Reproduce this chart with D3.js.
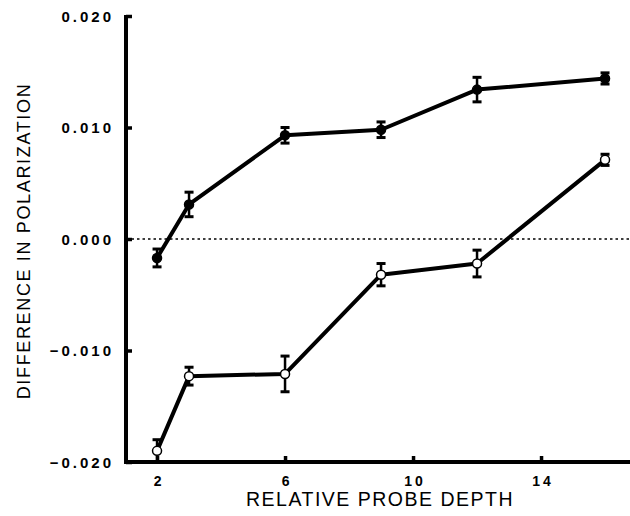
<!DOCTYPE html>
<html>
<head>
<meta charset="utf-8">
<script src="https://cdn.jsdelivr.net/npm/d3@7"></script>
<style>
  body { margin: 0; background: #fff; }
  svg { display: block; font-family: "Liberation Sans", Arial, sans-serif; }
</style>
</head>
<body>
<svg id="chart" width="630" height="516"></svg>
<script>
// probe depth values (x)
const depth = [2, 3, 6, 9, 12, 16];
// filled circles series
const filledValues = [-0.0017, 0.0031, 0.0093, 0.0098, 0.0134, 0.0144];
const filledErrors = [0.0008, 0.0011, 0.0007, 0.0007, 0.0011, 0.0005];
// open circles series
const openValues = [-0.0190, -0.0123, -0.0121, -0.0032, -0.0022, 0.0071];
const openErrors = [0.0010, 0.0008, 0.0016, 0.0010, 0.0012, 0.0005];
// tick labels
const xTicks = [2, 6, 10, 14];
const yTicks = [-0.020, -0.010, 0.000, 0.010, 0.020];

const svg = d3.select('#chart');
const plotLeft = 126, plotTop = 16, plotRight = 630, plotBottom = 462;

const x = d3.scaleLinear().domain([1.03, 16.78]).range([plotLeft, plotRight]);
const y = d3.scaleLinear().domain([-0.020, 0.020]).range([plotBottom, plotTop]);

// zero reference line (dotted)
svg.append('line')
    .attr('x1', plotLeft).attr('x2', plotRight)
    .attr('y1', y(0)).attr('y2', y(0))
    .style('stroke', '#000')
    .style('stroke-width', 1.6)
    .style('stroke-dasharray', '2.5,3');

// y axis
const yAxis = svg.append('g')
    .attr('transform', `translate(${plotLeft},0)`)
    .call(d3.axisLeft(y).tickValues(yTicks).tickFormat(d3.format('.3f'))
        .tickSizeInner(-6).tickSizeOuter(0).tickPadding(12));
yAxis.select('.domain').style('stroke-width', 4).attr('d', `M0,${plotTop - 1}V${plotBottom + 2}`);
yAxis.selectAll('.tick line').style('stroke-width', 3.5);
yAxis.selectAll('.tick text')
    .style('font-size', '15px')
    .style('font-weight', 'bold')
    .style('letter-spacing', '3px')
    .attr('dy', '0.36em');

// x axis
const xAxis = svg.append('g')
    .attr('transform', `translate(0,${plotBottom})`)
    .call(d3.axisBottom(x).tickValues(xTicks)
        .tickSizeInner(-6).tickSizeOuter(0).tickPadding(14));
xAxis.select('.domain').style('stroke-width', 4).attr('d', `M${plotLeft - 2},0H${plotRight}`);
xAxis.selectAll('.tick line').style('stroke-width', 3.5);
xAxis.selectAll('.tick text')
    .style('font-size', '14px')
    .style('font-weight', 'bold')
    .style('letter-spacing', '3px')
    .attr('dx', '1.5px');

// axis titles
svg.append('text')
    .text('RELATIVE PROBE DEPTH')
    .attr('x', 380)
    .attr('y', 506)
    .attr('text-anchor', 'middle')
    .style('font-size', '19.5px')
    .style('letter-spacing', '1.5px');

svg.append('text')
    .text('DIFFERENCE IN POLARIZATION')
    .attr('transform', 'translate(30,241) rotate(-90)')
    .attr('text-anchor', 'middle')
    .style('font-size', '18px')
    .style('letter-spacing', '1.65px');

function drawSeries(values, errors, open) {
    const pts = depth.map((d, i) => ({ x: d, v: values[i], e: errors[i] }));
    const g = svg.append('g');

    g.append('path')
        .datum(pts)
        .attr('d', d3.line().x(d => x(d.x)).y(d => y(d.v)))
        .style('fill', 'none')
        .style('stroke', '#000')
        .style('stroke-width', 4)
        .style('stroke-linejoin', 'round');

    pts.forEach(p => {
        const cx = x(p.x);
        g.append('line')
            .attr('x1', cx).attr('x2', cx)
            .attr('y1', y(p.v - p.e)).attr('y2', y(p.v + p.e))
            .style('stroke', '#000').style('stroke-width', 2.5);
        [p.v - p.e, p.v + p.e].forEach(v => {
            g.append('line')
                .attr('x1', cx - 4.5).attr('x2', cx + 4.5)
                .attr('y1', y(v)).attr('y2', y(v))
                .style('stroke', '#000').style('stroke-width', 3);
        });
        g.append('circle')
            .attr('cx', cx).attr('cy', y(p.v))
            .attr('r', 4.5)
            .style('fill', open ? '#fff' : '#000')
            .style('stroke', '#000')
            .style('stroke-width', 1.5);
    });
}

drawSeries(filledValues, filledErrors, false);
drawSeries(openValues, openErrors, true);
</script>
</body>
</html>
